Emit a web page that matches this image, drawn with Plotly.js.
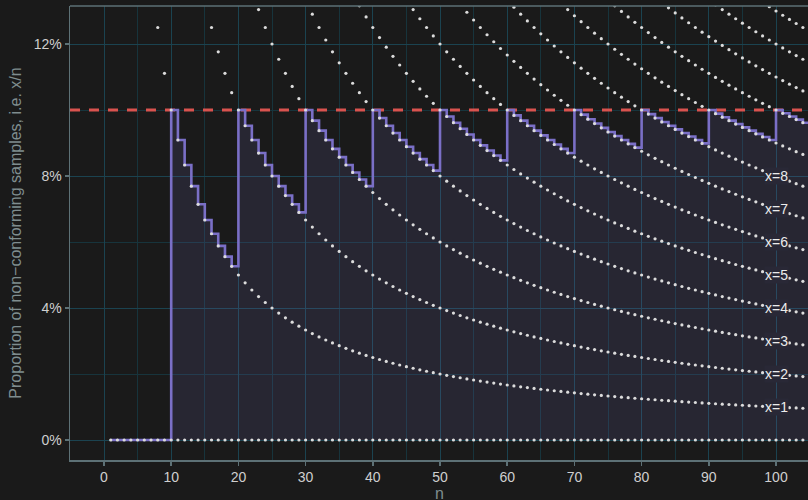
<!DOCTYPE html>
<html>
<head>
<meta charset="utf-8">
<script src="https://cdn.plot.ly/plotly-3.0.1.min.js"></script>
<style>
  html, body { margin: 0; padding: 0; background: #1a1a1a; }
  #chart { width: 808px; height: 500px; }
</style>
</head>
<body>
<div id="chart"></div>
<script>
// Sample sizes n
const sampleSizes = [
  1,2,3,4,5,6,7,8,9,10,11,12,13,14,15,16,17,18,19,20,
  21,22,23,24,25,26,27,28,29,30,31,32,33,34,35,36,37,38,39,40,
  41,42,43,44,45,46,47,48,49,50,51,52,53,54,55,56,57,58,59,60,
  61,62,63,64,65,66,67,68,69,70,71,72,73,74,75,76,77,78,79,80,
  81,82,83,84,85,86,87,88,89,90,91,92,93,94,95,96,97,98,99,100,
  101,102,103,104,105
];
// Number of non-conforming samples x for each dotted curve
const curveCounts = [0,1,2,3,4,5,6,7,8,9,10,11,12,13,14];
// Acceptance number (max x with x/n <= 10%) for each n, drawn as the step line
const stepCounts = [
  0,0,0,0,0,0,0,0,0,1,1,1,1,1,1,1,1,1,1,2,
  2,2,2,2,2,2,2,2,2,3,3,3,3,3,3,3,3,3,3,4,
  4,4,4,4,4,4,4,4,4,5,5,5,5,5,5,5,5,5,5,6,
  6,6,6,6,6,6,6,6,6,7,7,7,7,7,7,7,7,7,7,8,
  8,8,8,8,8,8,8,8,8,9,9,9,9,9,9,9,9,9,9,10,
  10,10,10,10,10
];
// Curve labels
const labelCounts = [1,2,3,4,5,6,7,8];
const labelN = 100;
const limitProportion = 0.10;

const xRange = [-5.06, 104.76];
const yRange = [-0.00606, 0.13152];

const stepY = sampleSizes.map((n, i) => stepCounts[i] / n);

const traces = [];
// 10% limit line (spans the whole x axis)
traces.push({
  x: xRange, y: [limitProportion, limitProportion],
  type: 'scatter', mode: 'lines',
  line: { color: '#d9534f', width: 3, dash: '10px,9px' },
  hoverinfo: 'skip', showlegend: false, cliponaxis: false
});
traces.push({
  x: sampleSizes, y: stepY,
  type: 'scatter', mode: 'lines',
  line: { shape: 'hv', color: '#7a6fc6', width: 2.6 },
  fill: 'tozeroy', fillcolor: 'rgba(122,111,198,0.14)',
  hoverinfo: 'skip', showlegend: false
});

// dotted curves x/n
const dotX = [], dotY = [];
curveCounts.forEach(k => {
  sampleSizes.forEach(n => { dotX.push(n); dotY.push(k / n); });
});
traces.push({
  x: dotX, y: dotY, type: 'scatter', mode: 'markers',
  marker: { color: '#dcdcdc', size: 3.2 },
  hoverinfo: 'skip', showlegend: false
});

const fontFamily = 'Liberation Sans, Arial, sans-serif';
const annotations = labelCounts.map(k => ({
  x: labelN, y: k / labelN, xref: 'x', yref: 'y',
  text: 'x=' + k, showarrow: false,
  font: { family: fontFamily, size: 14, color: '#ececec' },
  bgcolor: '#292836', borderpad: 0,
  xanchor: 'center', yanchor: 'middle'
}));

const axisFont = { family: fontFamily, size: 14, color: '#cfcfcf' };
const titleFont = { family: fontFamily, size: 16, color: '#7f8d8f' };

// x axis title placed as annotation so it can sit at the very bottom edge
annotations.push({
  x: 0.5, y: 0, xref: 'paper', yref: 'paper',
  text: 'n', showarrow: false, font: titleFont, borderpad: 0,
  xanchor: 'center', yanchor: 'top', yshift: -24
});

const layout = {
  width: 808, height: 500,
  margin: { l: 70, r: 0, t: 6, b: 40 },
  paper_bgcolor: '#1a1a1a', plot_bgcolor: '#1a1a1a',
  showlegend: false,
  xaxis: {
    range: xRange, tick0: 0, dtick: 10,
    showgrid: true, gridcolor: '#1b4350', gridwidth: 1,
    minor: { dtick: 5, showgrid: true, gridcolor: '#17343c', gridwidth: 1 },
    zeroline: false,
    showline: true, linecolor: '#5d7176', linewidth: 1.5,
    ticks: 'outside', ticklen: 4, tickcolor: '#5d7176', tickwidth: 1.5,
    tickfont: axisFont
  },
  yaxis: {
    range: yRange, tick0: 0, dtick: 0.04, tickformat: '.0%',
    showgrid: true, gridcolor: '#1b4350', gridwidth: 1,
    minor: { dtick: 0.02, showgrid: true, gridcolor: '#17343c', gridwidth: 1 },
    zeroline: false,
    showline: true, linecolor: '#5d7176', linewidth: 1.5,
    ticks: 'outside', ticklen: 4, tickcolor: '#5d7176', tickwidth: 1.5,
    tickfont: axisFont,
    title: { text: 'Proportion of non\u2212conforming samples, i.e. x/n', font: titleFont, standoff: 8 }
  },
  shapes: [
    { type: 'line', xref: 'paper', yref: 'paper', x0: 0, x1: 1, y0: 1, y1: 1,
      line: { color: '#5d7176', width: 1.5 }, layer: 'above' }
  ],
  annotations: annotations
};

Plotly.newPlot('chart', traces, layout, { displayModeBar: false, staticPlot: true });
</script>
</body>
</html>
